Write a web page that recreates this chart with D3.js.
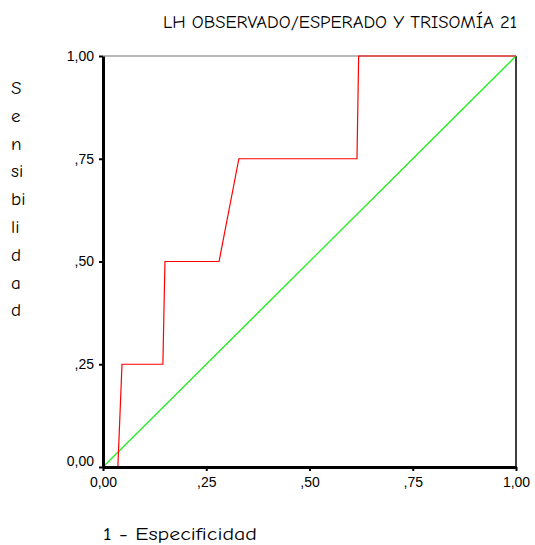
<!DOCTYPE html>
<html>
<head>
<meta charset="utf-8">
<script src="https://cdn.jsdelivr.net/npm/d3@7"></script>
<style>
  body { margin: 0; background: #fff; }
  .lbl { font-family: "Comic Sans MS", "Comic Neue", "DejaVu Sans", sans-serif; fill: #000; }
</style>
</head>
<body>
<div id="chart"></div>
<script>
// ROC curve points (1 - specificity, sensitivity)
const rocX = [0, 0.036, 0.046, 0.145, 0.150, 0.281, 0.329, 0.615, 0.619, 1]
const rocY = [0, 0, 0.25, 0.25, 0.50, 0.50, 0.75, 0.75, 1.00, 1]
const refX = [0, 1]
const refY = [0, 1]
const tickValues = [0, 0.25, 0.5, 0.75, 1]
const tickLabels = ['0,00', ',25', ',50', ',75', '1,00']
const yLabelParts = ['S', 'e', 'n', 'si', 'bi', 'li', 'd', 'a', 'd']

const width = 535,
  height = 545
const margin = { top: 56, right: 19, bottom: 78, left: 103 }

const svg = d3
  .select('#chart')
  .append('svg')
  .attr('width', width)
  .attr('height', height)

const x = d3
  .scaleLinear()
  .domain([0, 1])
  .range([margin.left, width - margin.right])
const y = d3
  .scaleLinear()
  .domain([0, 1])
  .range([height - margin.bottom, margin.top])

// frame: top grey, right black
svg.append('line')
  .attr('x1', x(0)).attr('x2', x(1))
  .attr('y1', y(1)).attr('y2', y(1))
  .attr('stroke', '#777').attr('stroke-width', 1.2)
svg.append('line')
  .attr('x1', x(1)).attr('x2', x(1))
  .attr('y1', y(1)).attr('y2', y(0))
  .attr('stroke', '#000').attr('stroke-width', 1.5)

const line = d3
  .line()
  .x(i => x(i[0]))
  .y(i => y(i[1]))

svg.append('path')
  .attr('d', line(refX.map((v, i) => [v, refY[i]])))
  .attr('fill', 'none')
  .attr('stroke', '#22ee22')
  .attr('stroke-width', 1.3)

svg.append('path')
  .attr('d', line(rocX.map((v, i) => [v, rocY[i]])))
  .attr('fill', 'none')
  .attr('stroke', '#ff0000')
  .attr('stroke-width', 1.2)

const fmt = d => tickLabels[tickValues.indexOf(d)]

// x axis
const gx = svg.append('g')
  .attr('transform', `translate(0, ${y(0)})`)
  .call(d3.axisBottom(x).tickValues(tickValues).tickFormat(fmt).tickSizeInner(4).tickSizeOuter(0).tickPadding(6))
gx.select('.domain').attr('stroke-width', 3)
gx.selectAll('.tick line').attr('stroke-width', 2)
gx.selectAll('.tick text')
  .style('font-family', '"Liberation Sans", Arial, sans-serif')
  .style('font-size', '14px')

// y axis
const gy = svg.append('g')
  .attr('transform', `translate(${x(0)}, 0)`)
  .call(d3.axisLeft(y).tickValues(tickValues).tickFormat(fmt).tickSizeInner(4).tickSizeOuter(0).tickPadding(5))
gy.select('.domain').attr('stroke-width', 3)
gy.selectAll('.tick line').attr('stroke-width', 2)
gy.selectAll('.tick text')
  .style('font-family', '"Liberation Sans", Arial, sans-serif')
  .style('font-size', '14px')
  .attr('dy', d => (d === 0 ? '-0.1em' : '0.32em'))

// title
svg.append('text')
  .attr('class', 'lbl')
  .attr('x', 163)
  .attr('y', 28)
  .attr('font-size', 18)
  .attr('textLength', 354)
  .attr('lengthAdjust', 'spacingAndGlyphs')
  .text('LH OBSERVADO/ESPERADO Y TRISOMÍA 21')

// y label, stacked letters
svg.append('g')
  .selectAll('text')
  .data(yLabelParts)
  .enter()
  .append('text')
  .attr('class', 'lbl')
  .attr('x', 11)
  .attr('y', (d, i) => 94 + i * 27.8)
  .attr('font-size', 19)
  .text(d => d)

// x label
svg.append('text')
  .attr('class', 'lbl')
  .attr('x', 103)
  .attr('y', 540)
  .attr('font-size', 18)
  .attr('textLength', 154)
  .attr('lengthAdjust', 'spacingAndGlyphs')
  .text('1 - Especificidad')
</script>
</body>
</html>
